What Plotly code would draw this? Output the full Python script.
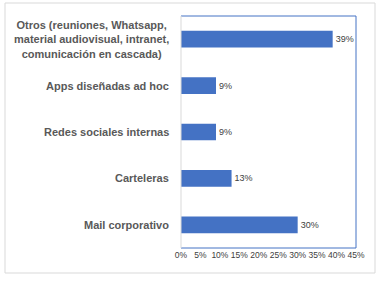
import plotly.graph_objects as go

categories = [
    "Otros (reuniones, Whatsapp,<br>material audiovisual, intranet,<br>comunicación en cascada)",
    "Apps diseñadas ad hoc",
    "Redes sociales internas",
    "Carteleras",
    "Mail corporativo",
]
values = [39, 9, 9, 13, 30]
value_labels = ["39%", "9%", "9%", "13%", "30%"]
tick_vals = [0, 5, 10, 15, 20, 25, 30, 35, 40, 45]
tick_text = ["0%", "5%", "10%", "15%", "20%", "25%", "30%", "35%", "40%", "45%"]

W, H = 380, 281
L, R, T, B = 181, 24, 16, 33
pw, ph = W - L - R, H - T - B

fig = go.Figure(go.Bar(
    x=values, y=categories, orientation="h",
    marker=dict(color="#4472C4", line=dict(width=0)),
    text=value_labels, textposition="outside",
    textfont=dict(family="Liberation Sans", size=9, color="#404040"),
    cliponaxis=False,
))

annotations = []
for c in categories:
    annotations.append(dict(
        x=0, xref="paper", xanchor="right", xshift=-10,
        y=c, yref="y", yanchor="middle",
        text=c, showarrow=False, align="center",
        font=dict(family="Liberation Sans", size=11, color="#595959", weight="bold"),
    ))

shapes = [
    dict(type="rect", xref="paper", yref="paper",
         x0=(5 - L) / pw, x1=(375 - L) / pw,
         y0=(H - B - 273) / ph, y1=(H - B - 3) / ph,
         line=dict(color="#D9D9D9", width=1), layer="below"),
    dict(type="line", xref="paper", yref="paper", x0=0, x1=1, y0=1, y1=1,
         line=dict(color="#4472C4", width=1)),
    dict(type="line", xref="paper", yref="paper", x0=1, x1=1, y0=0, y1=1,
         line=dict(color="#4472C4", width=1)),
    dict(type="line", xref="paper", yref="paper", x0=0, x1=1, y0=0, y1=0,
         line=dict(color="#4472C4", width=1)),
    dict(type="line", xref="paper", yref="paper", x0=0, x1=0, y0=0, y1=1,
         line=dict(color="#D9D9D9", width=1)),
]

fig.update_layout(
    width=W, height=H,
    margin=dict(l=L, r=R, t=T, b=B, autoexpand=False),
    paper_bgcolor="white", plot_bgcolor="white",
    bargap=0.64,
    showlegend=False,
    annotations=annotations,
    shapes=shapes,
    xaxis=dict(range=[0, 45], tickvals=tick_vals, ticktext=tick_text,
               tickangle=0, automargin=False,
               showgrid=False, zeroline=False, showline=False, ticks="",
               tickfont=dict(family="Liberation Sans", size=8.5, color="#404040")),
    yaxis=dict(autorange="reversed", showticklabels=False, showgrid=False,
               automargin=False,
               zeroline=False, showline=False, ticks=""),
)

fig.write_html("out.html", config={"displayModeBar": False},
               post_script="document.body.style.margin='0';document.body.style.overflow='hidden';")
